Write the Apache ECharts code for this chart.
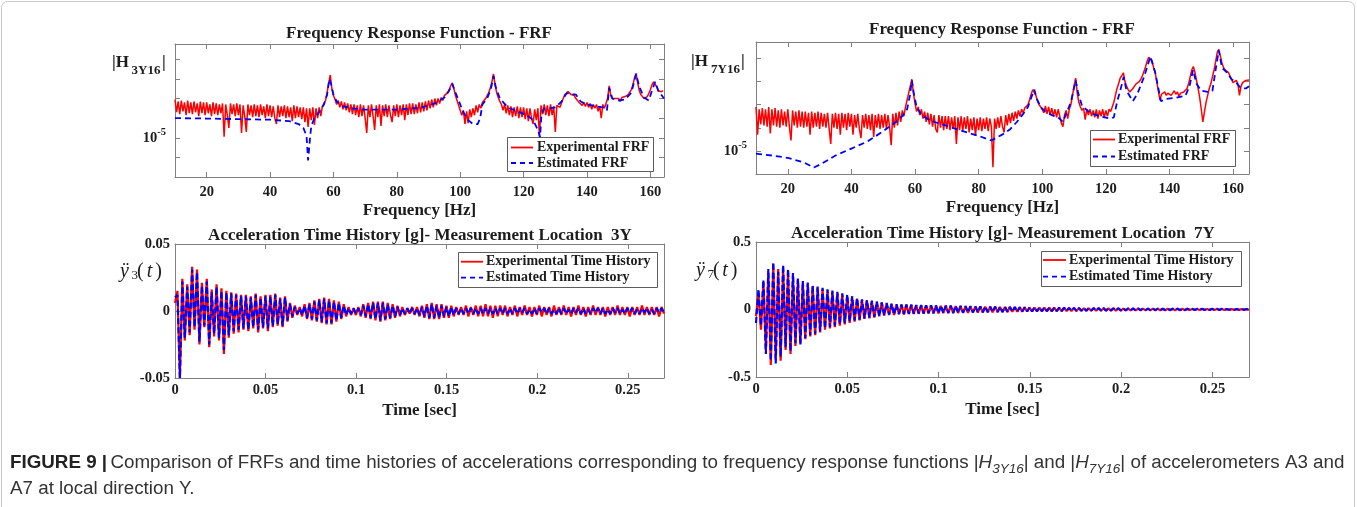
<!DOCTYPE html>
<html>
<head>
<meta charset="utf-8">
<title>FRF and time history comparison</title>
<script src="https://cdn.jsdelivr.net/npm/echarts@6.0.0/dist/echarts.min.js"></script>
<style>
html,body{margin:0;padding:0;background:#ffffff;}
#chart{width:1357px;height:507px;}
</style>
</head>
<body>
<div id="chart"></div>
<script>
// ================= DATA =================
// Measured FRFs sampled every FRF_DF Hz from FRF_F0 Hz; values are log10 of |H|
const FRF_F0 = 10;
const FRF_DF = 0.5;

const frf3Exp = [
-3.05,-3.7,-3.15,-3.8,-3.1,-3.65,-3.2,-3.85,-3.1,-3.75,
-3.2,-3.8,-3.15,-3.7,-3.25,-3.9,-3.15,-3.75,-3.2,-3.85,
-3.2,-3.75,-3.3,-3.9,-3.2,-3.8,-3.25,-3.85,-3.3,-3.75,
-3.25,-4.95,-3.3,-3.85,-4.5,-3.25,-3.8,-3.3,-3.9,-3.25,
-3.85,-3.3,-4.75,-3.35,-3.9,-4.7,-3.3,-3.85,-3.35,-3.95,
-3.3,-3.9,-3.35,-3.95,-3.3,-3.85,-3.4,-4.0,-3.3,-3.9,
-3.35,-3.95,-3.4,-4.0,-4.3,-3.35,-3.95,-3.4,-3.9,-3.35,
-4.0,-3.4,-3.95,-3.45,-4.15,-3.35,-4.0,-3.4,-3.95,-3.45,
-4.05,-3.45,-4.2,-3.5,-4.45,-3.5,-4.1,-3.45,-4.35,-3.5,
-4.0,-3.45,-3.9,-3.4,-3.5,-3.1,-2.7,-2.2,-1.8,-2.5,
-2.85,-3.05,-3.3,-3.1,-3.45,-3.15,-3.55,-3.2,-3.6,-3.25,
-3.7,-3.3,-3.8,-3.3,-3.85,-3.35,-3.95,-3.3,-3.9,-3.35,
-4.0,-4.75,-3.35,-3.95,-3.3,-3.9,-4.6,-3.35,-3.95,-3.3,
-4.4,-3.35,-3.9,-3.3,-3.95,-3.35,-3.85,-4.2,-3.35,-3.9,
-3.3,-3.95,-3.35,-3.85,-3.3,-4.1,-3.3,-3.85,-3.25,-3.8,
-3.25,-3.8,-3.3,-3.75,-3.2,-3.7,-3.2,-3.65,-3.15,-3.6,
-3.1,-3.5,-3.05,-3.45,-3.0,-3.35,-3.0,-3.25,-2.95,-3.1,
-2.85,-2.9,-2.7,-2.55,-2.35,-2.2,-2.5,-2.85,-3.1,-3.35,
-3.45,-3.85,-3.6,-4.3,-3.65,-4.25,-3.55,-3.95,-3.5,-3.85,
-3.35,-3.7,-3.3,-3.5,-3.2,-3.3,-3.0,-2.85,-2.7,-2.45,
-2.15,-1.75,-2.3,-2.7,-2.95,-3.15,-3.3,-3.6,-3.3,-3.75,
-3.35,-3.85,-3.4,-3.95,-3.45,-3.9,-3.4,-4.0,-3.45,-3.95,
-3.45,-4.05,-3.5,-4.15,-3.5,-4.0,-4.3,-3.55,-4.1,-3.5,
-4.95,-3.35,-3.8,-3.3,-3.85,-3.35,-3.9,-3.3,-3.85,-3.4,
-4.7,-3.35,-3.3,-3.45,-3.2,-3.0,-2.8,-2.7,-2.65,-2.75,
-2.8,-2.7,-2.85,-3.0,-3.1,-3.2,-3.15,-3.35,-3.2,-3.4,
-3.2,-3.45,-3.25,-3.55,-3.3,-3.5,-3.3,-3.65,-3.4,-4.0,
-3.3,-3.5,-3.45,-3.0,-2.35,-2.85,-3.0,-3.1,-3.0,-3.1,
-3.0,-3.15,-2.95,-3.05,-2.9,-2.85,-2.8,-2.7,-2.55,-2.3,
-1.95,-1.72,-2.2,-2.6,-2.8,-2.9,-3.0,-3.05,-2.9,-2.75,
-2.55,-2.3,-2.15,-2.1,-2.4,-2.6,-2.7,-2.65,-2.6
];

// Estimated FRF |H3Y16|: [frequency Hz, log10 |H|]
const frf3Est = [
[10,-4.0],[20,-4.02],[30,-4.05],[40,-4.08],[46,-4.15],[49,-4.3],[50.5,-4.5],[51.5,-4.9],[52,-6.15],[52.5,-5.2],
[53,-4.4],[54,-4.0],[55,-3.8],[56,-3.55],[57,-3.3],[58,-2.8],[58.7,-2.0],[59.3,-2.3],[60,-2.8],[61,-3.15],
[63,-3.4],[66,-3.5],[70,-3.57],[80,-3.57],[88,-3.45],[92,-3.25],[95,-2.95],[96.5,-2.6],[97.5,-2.25],[98.5,-2.7],
[99.5,-3.1],[101,-3.7],[102.5,-4.1],[104,-4.3],[105.5,-4.3],[106.3,-4.0],[107,-3.3],[108.5,-3.0],[109.7,-2.5],[110.5,-1.85],
[111.2,-2.4],[112.5,-3.0],[115,-3.45],[118,-3.65],[121,-3.85],[123,-4.1],[124.5,-4.6],[125.2,-4.97],[125.6,-3.9],[126.5,-3.5],
[128,-3.5],[130,-3.45],[132,-3.15],[133.5,-2.75],[134.5,-2.72],[135.5,-2.78],[136.5,-2.8],[138,-3.15],[140,-3.3],[143,-3.4],
[145,-3.45],[146.3,-3.6],[147,-2.45],[148,-3.0],[150,-3.1],[152,-3.05],[154,-2.7],[155.5,-1.75],[156.5,-2.4],[158,-2.95],
[159.5,-3.1],[160.5,-2.6],[161.5,-2.15],[162.5,-2.6],[164.3,-3.0]
];

const frf7Exp = [
-3.1,-4.3,-3.2,-3.85,-3.15,-3.9,-3.2,-3.95,-3.1,-4.25,
-3.2,-3.9,-3.15,-3.95,-3.25,-4.0,-3.2,-3.9,-3.3,-3.95,
-3.2,-3.95,-4.55,-3.25,-3.9,-3.3,-4.0,-3.25,-3.95,-3.3,
-4.0,-3.3,-3.95,-3.35,-4.3,-3.3,-4.0,-3.35,-3.95,-3.3,
-4.05,-3.35,-3.95,-3.4,-4.0,-3.35,-4.05,-4.7,-3.4,-4.0,
-3.35,-4.05,-3.4,-4.3,-3.35,-4.0,-3.4,-4.1,-3.35,-3.95,
-3.4,-4.3,-3.45,-4.0,-3.4,-4.05,-4.45,-3.45,-4.0,-3.4,
-4.05,-3.45,-4.1,-3.4,-4.4,-3.45,-4.0,-3.4,-4.05,-3.45,
-4.0,-3.4,-4.05,-3.45,-3.95,-4.75,-3.4,-4.0,-3.35,-3.9,
-3.3,-3.75,-3.25,-3.5,-3.1,-2.8,-2.5,-2.2,-1.9,-2.5,
-2.95,-3.3,-3.1,-3.45,-3.2,-3.6,-3.3,-3.75,-3.35,-3.85,
-3.4,-3.95,-3.45,-4.05,-4.2,-3.45,-4.0,-3.5,-4.1,-3.5,
-4.05,-3.5,-4.1,-3.55,-4.05,-3.5,-4.7,-3.55,-4.1,-3.5,
-4.15,-3.55,-4.05,-3.5,-4.2,-3.6,-4.1,-3.55,-4.35,-3.6,
-4.1,-3.55,-4.15,-3.6,-4.05,-3.55,-4.15,-3.6,-3.95,-5.71,
-3.6,-4.05,-3.55,-4.0,-3.5,-3.95,-4.2,-3.45,-3.9,-3.4,
-3.8,-3.35,-3.7,-3.3,-3.6,-3.25,-3.5,-3.2,-3.35,-3.15,
-3.1,-3.0,-2.8,-2.55,-2.35,-2.3,-2.6,-2.85,-3.0,-3.1,
-3.1,-3.35,-3.05,-3.4,-3.1,-3.45,-3.15,-3.5,-3.2,-3.55,
-3.2,-3.5,-3.8,-3.95,-3.45,-3.25,-3.6,-3.2,-3.0,-2.6,
-2.2,-1.85,-2.5,-2.9,-3.1,-3.25,-3.15,-3.65,-3.2,-3.45,
-3.2,-3.5,-3.25,-3.55,-3.2,-3.6,-3.25,-3.5,-3.2,-3.55,
-3.25,-3.5,-3.2,-3.3,-3.1,-2.9,-2.6,-2.3,-2.1,-1.85,
-1.75,-1.62,-2.0,-2.2,-2.35,-2.45,-2.4,-2.3,-2.2,-2.1,
-2.05,-2.0,-1.9,-1.75,-1.55,-1.35,-1.1,-0.95,-0.89,-1.1,
-1.4,-1.6,-2.0,-2.4,-2.8,-2.55,-2.5,-2.45,-2.6,-2.5,
-2.45,-2.6,-2.5,-2.4,-2.55,-2.45,-2.65,-2.5,-2.55,-2.45,
-2.5,-2.3,-2.1,-1.8,-1.5,-1.35,-1.6,-1.95,-2.3,-2.7,
-3.2,-3.75,-3.3,-2.9,-2.6,-2.3,-2.1,-1.8,-1.5,-1.15,
-0.75,-0.61,-0.9,-1.2,-1.4,-1.5,-1.55,-1.6,-1.75,-1.9,
-2.05,-2.0,-1.95,-2.1,-2.6,-2.2,-2.05,-2.0,-1.95,-1.9,-1.93
];

const frf7Est = [
[10,-5.12],[15,-5.2],[20,-5.3],[25,-5.5],[28.2,-5.72],[30,-5.6],[35,-5.2],[40,-4.9],[45,-4.6],[50,-4.15],
[54,-3.75],[56,-3.5],[57.5,-3.2],[58.4,-2.6],[59,-1.95],[59.6,-2.5],[60.5,-3.1],[62,-3.45],[65,-3.7],[70,-3.92],
[75,-4.15],[80,-4.35],[84,-4.55],[86,-4.4],[88,-4.25],[90,-4.05],[92,-3.75],[94,-3.4],[95.5,-3.1],[96.8,-2.6],
[97.5,-2.35],[98.3,-2.75],[99.5,-3.1],[101,-3.3],[103,-3.45],[105,-3.55],[106.5,-3.75],[107.5,-3.4],[109,-2.9],[110.5,-1.95],
[111.3,-2.5],[112.5,-3.05],[115,-3.35],[118,-3.5],[121.5,-3.6],[122.5,-3.55],[123.5,-2.9],[124.5,-2.4],[125.6,-1.8],[126.5,-2.4],
[128.5,-2.85],[130,-2.5],[132,-1.8],[134,-0.92],[135.5,-1.6],[137.3,-2.85],[139,-2.75],[142,-2.7],[145,-2.62],[146.3,-2.2],
[147.4,-1.5],[148.5,-2.1],[150,-2.4],[152,-2.45],[153.5,-2.4],[154.5,-1.5],[155.5,-0.65],[156.5,-1.4],[158,-1.6],[159.5,-1.9],
[161,-2.05],[162.4,-2.28],[164,-2.3],[165,-2.2]
];

// Acceleration time histories [g], sampled every TH_DT s from 0 s
const TH_DT = 0.00135;

const th3Exp = [
0.006,0.015,-0.05,0.024,-0.022,0.02,-0.018,0.033,-0.014,0.031,-0.025,0.021,-0.012,0.024,-0.027,0.016,-0.019,0.02,-0.022,0.017,
-0.032,0.015,-0.02,0.014,-0.017,0.013,-0.016,0.012,-0.014,0.012,-0.015,0.011,-0.013,0.013,-0.016,0.011,-0.013,0.012,-0.015,0.012,
-0.012,0.013,-0.011,0.01,-0.012,0.011,-0.008,0.006,-0.005,0.004,-0.003,0.003,-0.004,0.005,-0.006,0.006,-0.007,0.008,-0.008,0.009,
-0.009,0.01,-0.01,0.009,-0.01,0.008,-0.008,0.007,-0.006,0.005,-0.004,0.003,-0.003,0.002,-0.003,0.003,-0.004,0.005,-0.005,0.006,
-0.006,0.007,-0.007,0.007,-0.008,0.007,-0.007,0.006,-0.006,0.005,-0.005,0.004,-0.004,0.003,-0.003,0.002,-0.002,0.003,-0.003,0.003,
-0.004,0.004,-0.005,0.005,-0.006,0.006,-0.006,0.005,-0.006,0.005,-0.005,0.004,-0.005,0.004,-0.004,0.003,-0.003,0.003,-0.003,0.004,
-0.004,0.003,-0.003,0.004,-0.004,0.004,-0.004,0.005,-0.004,0.004,-0.005,0.004,-0.004,0.004,-0.003,0.004,-0.004,0.003,-0.003,0.004,
-0.004,0.003,-0.003,0.004,-0.003,0.003,-0.004,0.003,-0.003,0.004,-0.004,0.003,-0.003,0.003,-0.004,0.004,-0.003,0.003,-0.003,0.004,
-0.003,0.003,-0.004,0.003,-0.003,0.004,-0.003,0.003,-0.004,0.003,-0.003,0.004,-0.003,0.003,-0.003,0.003,-0.004,0.003,-0.003,0.003,
-0.003,0.004,-0.003,0.003,-0.003,0.003,-0.004,0.003,-0.003,0.003,-0.003,0.004,-0.003,0.003,-0.003,0.003,-0.003,0.003,-0.004,0.003,
-0.002
];

const th3Est = [
0.01,0.012,-0.05,0.022,-0.02,0.018,-0.016,0.031,-0.012,0.029,-0.023,0.019,-0.011,0.022,-0.025,0.014,-0.017,0.018,-0.02,0.015,
-0.029,0.014,-0.018,0.013,-0.015,0.012,-0.014,0.011,-0.013,0.011,-0.014,0.01,-0.012,0.012,-0.014,0.01,-0.012,0.011,-0.013,0.011,
-0.011,0.012,-0.01,0.009,-0.011,0.01,-0.007,0.005,-0.004,0.003,-0.002,0.002,-0.003,0.004,-0.005,0.005,-0.006,0.007,-0.007,0.008,
-0.008,0.009,-0.009,0.008,-0.009,0.007,-0.007,0.006,-0.005,0.004,-0.003,0.002,-0.002,0.002,-0.002,0.002,-0.003,0.004,-0.004,0.005,
-0.005,0.006,-0.006,0.006,-0.007,0.006,-0.006,0.005,-0.005,0.004,-0.004,0.003,-0.003,0.002,-0.002,0.002,-0.002,0.002,-0.002,0.002,
-0.003,0.003,-0.004,0.004,-0.005,0.005,-0.005,0.004,-0.005,0.004,-0.004,0.003,-0.004,0.003,-0.003,0.002,-0.002,0.002,-0.002,0.002,
-0.002,0.002,-0.002,0.002,-0.002,0.002,-0.002,0.002,-0.002,0.002,-0.002,0.002,-0.002,0.002,-0.002,0.002,-0.002,0.002,-0.002,0.002,
-0.002,0.002,-0.001,0.002,-0.002,0.001,-0.002,0.002,-0.002,0.002,-0.001,0.002,-0.002,0.002,-0.002,0.001,-0.002,0.002,-0.002,0.002,
-0.002,0.001,-0.002,0.002,-0.001,0.002,-0.002,0.002,-0.002,0.001,-0.002,0.002,-0.001,0.002,-0.002,0.002,-0.002,0.001,-0.002,0.002,
-0.001,0.002,-0.002,0.001,-0.002,0.002,-0.001,0.002,-0.002,0.001,-0.002,0.002,-0.001,0.002,-0.002,0.001,-0.002,0.002,-0.001,0.002,
-0.001
];

const th7Exp = [
-0.05,0.12,-0.15,0.2,-0.3,0.27,-0.41,0.33,-0.36,0.3,-0.38,0.31,-0.3,0.28,-0.33,0.25,-0.27,0.22,-0.25,0.2,
-0.22,0.19,-0.2,0.17,-0.19,0.16,-0.17,0.15,-0.15,0.14,-0.14,0.13,-0.13,0.12,-0.12,0.11,-0.11,0.1,-0.1,0.09,
-0.09,0.08,-0.08,0.07,-0.07,0.065,-0.065,0.06,-0.06,0.055,-0.05,0.05,-0.045,0.045,-0.04,0.04,-0.04,0.035,-0.035,0.035,
-0.036,0.035,-0.034,0.034,-0.033,0.032,-0.032,0.031,-0.031,0.03,-0.03,0.03,-0.029,0.029,-0.029,0.028,-0.028,0.028,-0.027,0.027,
-0.027,0.026,-0.026,0.025,-0.025,0.024,-0.024,0.023,-0.023,0.022,-0.022,0.022,-0.021,0.021,-0.021,0.02,-0.02,0.02,-0.019,0.019,
-0.019,0.018,-0.018,0.018,-0.017,0.017,-0.017,0.016,-0.016,0.016,-0.015,0.015,-0.015,0.015,-0.014,0.014,-0.014,0.014,-0.013,0.013,
-0.013,0.013,-0.012,0.012,-0.012,0.012,-0.011,0.011,-0.011,0.011,-0.011,0.01,-0.01,0.01,-0.01,0.01,-0.009,0.009,-0.009,0.009,
-0.009,0.009,-0.009,0.008,-0.008,0.008,-0.008,0.008,-0.008,0.007,-0.007,0.007,-0.007,0.007,-0.007,0.007,-0.006,0.006,-0.006,0.006,
-0.006,0.006,-0.006,0.006,-0.006,0.005,-0.005,0.005,-0.005,0.005,-0.005,0.005,-0.005,0.005,-0.005,0.005,-0.004,0.004,-0.004,0.004,
-0.004,0.004,-0.004,0.004,-0.004,0.004,-0.004,0.004,-0.004,0.004,-0.004,0.003,-0.003,0.003,-0.003,0.003,-0.003,0.003,-0.003,0.003,
-0.003
];

const th7Est = [
-0.1,0.15,-0.12,0.22,-0.33,0.3,-0.38,0.35,-0.4,0.28,-0.35,0.33,-0.28,0.3,-0.31,0.27,-0.25,0.23,-0.26,0.21,
-0.21,0.2,-0.19,0.18,-0.18,0.17,-0.16,0.16,-0.14,0.15,-0.13,0.14,-0.12,0.13,-0.11,0.12,-0.1,0.11,-0.09,0.1,
-0.08,0.085,-0.075,0.075,-0.065,0.07,-0.06,0.065,-0.055,0.06,-0.048,0.052,-0.043,0.048,-0.038,0.043,-0.038,0.038,-0.033,0.037,
-0.033,0.036,-0.032,0.035,-0.031,0.033,-0.03,0.032,-0.029,0.031,-0.028,0.031,-0.027,0.03,-0.027,0.029,-0.026,0.029,-0.025,0.028,
-0.025,0.027,-0.024,0.026,-0.023,0.025,-0.022,0.024,-0.021,0.023,-0.02,0.023,-0.02,0.022,-0.019,0.021,-0.019,0.021,-0.018,0.02,
-0.018,0.019,-0.017,0.019,-0.016,0.018,-0.016,0.017,-0.015,0.017,-0.014,0.016,-0.014,0.016,-0.013,0.015,-0.013,0.015,-0.012,0.014,
-0.012,0.014,-0.011,0.013,-0.011,0.013,-0.01,0.012,-0.01,0.012,-0.01,0.011,-0.009,0.011,-0.009,0.011,-0.008,0.01,-0.008,0.01,
-0.008,0.01,-0.008,0.009,-0.007,0.009,-0.007,0.009,-0.007,0.008,-0.006,0.008,-0.006,0.008,-0.006,0.008,-0.005,0.007,-0.005,0.007,
-0.005,0.007,-0.005,0.007,-0.005,0.006,-0.004,0.006,-0.004,0.006,-0.004,0.006,-0.004,0.006,-0.004,0.006,-0.003,0.005,-0.003,0.005,
-0.003,0.005,-0.003,0.005,-0.003,0.005,-0.003,0.005,-0.003,0.005,-0.003,0.004,-0.002,0.004,-0.002,0.004,-0.002,0.004,-0.002,0.004,
-0.002
];

// tick positions / labels
const frfTickValues = [20, 40, 60, 80, 100, 120, 140, 160];
const timeTickValues = [0, 0.05, 0.1, 0.15, 0.2, 0.25];
const frf3DecadeTicks = [-6, -5, -4, -3, -2, -1];
const frf7DecadeTicks = [-5, -4, -3, -2, -1];
const frfLabelDecades = [-5];
const th3TickValues = [-0.05, 0, 0.05];
const th7TickValues = [-0.5, 0, 0.5];
const frfLegendNames = ['Experimental FRF', 'Estimated FRF'];
const thLegendNames = ['Experimental Time History', 'Estimated Time History'];

// ================= STYLE =================
const AX = '#808080';
const TXT = '#1c1c1c';
const SERIF = '"Liberation Serif","Times New Roman",serif';
const SANS = '"Liberation Sans",Arial,Helvetica,sans-serif';
const RED = '#ff0000';
const BLUE = '#0000ff';

function xAxes(g, min, max, ticks, name, nameGap, margin) {
  const common = {
    type: 'value', gridIndex: g, min: min, max: max,
    axisLine: { show: true, onZero: false, lineStyle: { color: AX, width: 1 } },
    axisTick: { show: true, inside: true, length: 5, customValues: ticks, lineStyle: { color: AX, width: 1 } },
    splitLine: { show: false }
  };
  return [
    Object.assign({}, common, {
      position: 'bottom',
      axisLabel: { show: true, customValues: ticks, margin: margin, color: TXT, fontFamily: SERIF,
                   fontWeight: 'bold', fontSize: 14.5, formatter: function (v) { return String(v); } },
      name: name, nameLocation: 'middle', nameGap: nameGap,
      nameTextStyle: { color: TXT, fontFamily: SERIF, fontWeight: 'bold', fontSize: 17 }
    }),
    Object.assign({}, common, { position: 'top', axisLabel: { show: false } })
  ];
}

function yAxes(g, min, max, ticks, labels, margin, formatter, rich) {
  const common = {
    type: 'value', gridIndex: g, min: min, max: max,
    axisLine: { show: true, onZero: false, lineStyle: { color: AX, width: 1 } },
    axisTick: { show: true, inside: true, length: 5, customValues: ticks, lineStyle: { color: AX, width: 1 } },
    splitLine: { show: false }
  };
  const lab = { show: true, customValues: labels, margin: margin, color: TXT, fontFamily: SERIF,
                fontWeight: 'bold', fontSize: 14.5, formatter: formatter };
  if (rich) lab.rich = rich;
  return [
    Object.assign({}, common, { position: 'left', axisLabel: lab }),
    Object.assign({}, common, { position: 'right', axisLabel: { show: false } })
  ];
}

const powRich = {
  m: { fontFamily: SERIF, fontWeight: 'bold', fontSize: 14.5, color: TXT, lineHeight: 22 },
  s: { fontFamily: SERIF, fontWeight: 'bold', fontSize: 10.5, color: TXT, lineHeight: 11, verticalAlign: 'top' }
};
const powFmt = function (v) { return '{m|10}{s|' + v + '}'; };
const numFmt = function (v) { return String(v); };

const frfX = function (arr) { return arr.map(function (v, i) { return [FRF_F0 + i * FRF_DF, v]; }); };
const thX = function (arr) { return arr.map(function (v, i) { return [i * TH_DT, v]; }); };

function lineSeries(name, xi, data, color, width, dash, z) {
  return {
    type: 'line', name: name, xAxisIndex: xi, yAxisIndex: xi, data: data,
    symbol: 'none', showSymbol: false, silent: true, animation: false, sampling: null,
    clip: true, z: z,
    itemStyle: { color: color },
    lineStyle: { color: color, width: width, type: dash || 'solid' }
  };
}

function txt(x, y, text, size, opts) {
  opts = opts || {};
  return {
    type: 'text', x: x, y: y, silent: true, z: 100,
    style: {
      text: text, fill: opts.fill || TXT,
      fontFamily: opts.family || SERIF, fontWeight: opts.weight || 'normal', fontStyle: opts.style || 'normal',
      fontSize: size,
      align: opts.align || 'left', textAlign: opts.align || 'left',
      verticalAlign: 'middle', textVerticalAlign: 'middle'
    }
  };
}

// legend box drawn like the MATLAB legend: frame, solid red sample, dashed blue sample, labels
function legendBox(names, bx, by, bw, bh, lx0, lx1, tx, y1, y2) {
  return [
    { type: 'rect', silent: true, z: 50, shape: { x: bx + 0.5, y: by + 0.5, width: bw, height: bh },
      style: { fill: '#ffffff', stroke: '#333333', lineWidth: 0.8 } },
    { type: 'line', silent: true, z: 51, shape: { x1: lx0, y1: y1, x2: lx1, y2: y1 },
      style: { stroke: RED, lineWidth: 1.8 } },
    { type: 'line', silent: true, z: 51, shape: { x1: lx0, y1: y2, x2: lx1, y2: y2 },
      style: { stroke: BLUE, lineWidth: 1.8, lineDash: [5, 4] } },
    txt(tx, y1, names[0], 14, { weight: 'bold' }),
    txt(tx, y2, names[1], 14, { weight: 'bold' })
  ];
}

const chart = echarts.init(document.getElementById('chart'), null, { renderer: 'canvas' });

const grids = [
  { left: 175, top: 44, width: 489, height: 133 },
  { left: 756, top: 42, width: 493, height: 132 },
  { left: 175, top: 244, width: 489, height: 134 },
  { left: 756, top: 242, width: 493, height: 135 }
].map(function (g) { return Object.assign({ outerBoundsMode: 'none', containLabel: false }, g); });

const xAxis = [].concat(
  xAxes(0, 10, 164.3, frfTickValues, 'Frequency [Hz]', 25, 8),
  xAxes(1, 10, 165, frfTickValues, 'Frequency [Hz]', 25, 8),
  xAxes(2, 0, 0.27, timeTickValues, 'Time [sec]', 24, 5),
  xAxes(3, 0, 0.27, timeTickValues, 'Time [sec]', 24, 5)
);
const yAxis = [].concat(
  yAxes(0, -7, -0.22, frf3DecadeTicks, frfLabelDecades, 9, powFmt, powRich),
  yAxes(1, -6, -0.29, frf7DecadeTicks, frfLabelDecades, 9, powFmt, powRich),
  yAxes(2, -0.05, 0.05, th3TickValues, th3TickValues, 5, numFmt),
  yAxes(3, -0.5, 0.5, th7TickValues, th7TickValues, 5, numFmt)
);

const series = [
  lineSeries(frfLegendNames[0], 0, frfX(frf3Exp), RED, 1.5, null, 2),
  lineSeries(frfLegendNames[1], 0, frf3Est, BLUE, 1.8, [6, 4], 3),
  lineSeries(frfLegendNames[0], 2, frfX(frf7Exp), RED, 1.5, null, 2),
  lineSeries(frfLegendNames[1], 2, frf7Est, BLUE, 1.8, [6, 4], 3),
  lineSeries(thLegendNames[0], 4, thX(th3Exp), RED, 2.2, null, 2),
  lineSeries(thLegendNames[1], 4, thX(th3Est), BLUE, 2.2, [6, 3], 3),
  lineSeries(thLegendNames[0], 6, thX(th7Exp), RED, 2.2, null, 2),
  lineSeries(thLegendNames[1], 6, thX(th7Est), BLUE, 2.2, [6, 3], 3)
];

const CAP = 18.8;
const capRich = {
  b: { fontFamily: SANS, fontWeight: 'bold', fontSize: CAP, fill: '#222', color: '#222', lineHeight: 26 },
  n: { fontFamily: SANS, fontSize: CAP, fill: '#333', color: '#333', lineHeight: 26 },
  i: { fontFamily: SANS, fontStyle: 'italic', fontSize: CAP, fill: '#333', color: '#333', lineHeight: 26 },
  s: { fontFamily: SANS, fontStyle: 'italic', fontSize: 13.5, fill: '#333', color: '#333', lineHeight: 14, verticalAlign: 'bottom' }
};

const graphic = [].concat(
  [
    // outer frame
    { type: 'rect', silent: true, z: 0, shape: { x: 1.5, y: 1.5, width: 1353, height: 540, r: 6 },
      style: { fill: 'none', stroke: '#c8c8c8', lineWidth: 1 } },
    // panel titles
    txt(419, 34, 'Frequency Response Function - FRF', 17, { weight: 'bold', align: 'center' }),
    txt(1002, 30, 'Frequency Response Function - FRF', 17, { weight: 'bold', align: 'center' }),
    txt(420, 236, 'Acceleration Time History [g]- Measurement Location  3Y', 17, { weight: 'bold', align: 'center' }),
    txt(1003, 234, 'Acceleration Time History [g]- Measurement Location  7Y', 17, { weight: 'bold', align: 'center' }),
    // |H3Y16|
    txt(112, 62.6, '|H', 17, { weight: 'bold' }),
    txt(131.5, 70.2, '3Y16', 13, { weight: 'bold' }),
    txt(162, 62.6, '|', 17, { weight: 'bold' }),
    // |H7Y16|
    txt(691, 62, '|H', 17, { weight: 'bold' }),
    txt(711, 69.2, '7Y16', 13, { weight: 'bold' }),
    txt(741, 62, '|', 17, { weight: 'bold' }),
    // y3(t)
    txt(120, 271.5, '\u00ff', 20, { style: 'italic' }),
    txt(131.5, 276, '3', 13, {}),
    txt(137, 271.5, '(', 20, {}),
    txt(149.5, 271.5, 't', 20, { style: 'italic', align: 'center' }),
    txt(162, 271.5, ')', 20, { align: 'right' }),
    // y7(t)
    txt(696, 270.5, '\u00ff', 20, { style: 'italic' }),
    txt(707.5, 275, '7', 13, {}),
    txt(713, 270.5, '(', 20, {}),
    txt(725, 270.5, 't', 20, { style: 'italic', align: 'center' }),
    txt(737.5, 270.5, ')', 20, { align: 'right' }),
    // caption
    { type: 'text', x: 10, y: 463, silent: true, z: 100,
      style: {
        text: '{b|FIGURE 9 |} {n|Comparison of FRFs and time histories of accelerations corresponding to frequency response functions |}{i|H}{s|3Y16}{n|| and |}{i|H}{s|7Y16}{n|| of accelerometers A3 and}',
        rich: capRich, align: 'left', textAlign: 'left', verticalAlign: 'middle', textVerticalAlign: 'middle'
      } },
    { type: 'text', x: 10, y: 489, silent: true, z: 100,
      style: {
        text: '{n|A7 at local direction Y.}',
        rich: capRich, align: 'left', textAlign: 'left', verticalAlign: 'middle', textVerticalAlign: 'middle'
      } }
  ],
  legendBox(frfLegendNames, 507, 137, 146, 34, 511, 533, 537, 147.5, 163),
  legendBox(frfLegendNames, 1090, 130, 145, 36, 1093, 1115, 1118, 139.5, 156.5),
  legendBox(thLegendNames, 458, 252, 199, 35, 461, 483, 486, 261.7, 277.7),
  legendBox(thLegendNames, 1041, 251, 200, 35, 1043, 1066, 1069, 260, 276.7)
);

chart.setOption({
  backgroundColor: '#ffffff',
  animation: false,
  grid: grids,
  xAxis: xAxis,
  yAxis: yAxis,
  series: series,
  graphic: graphic
});
</script>
</body>
</html>
